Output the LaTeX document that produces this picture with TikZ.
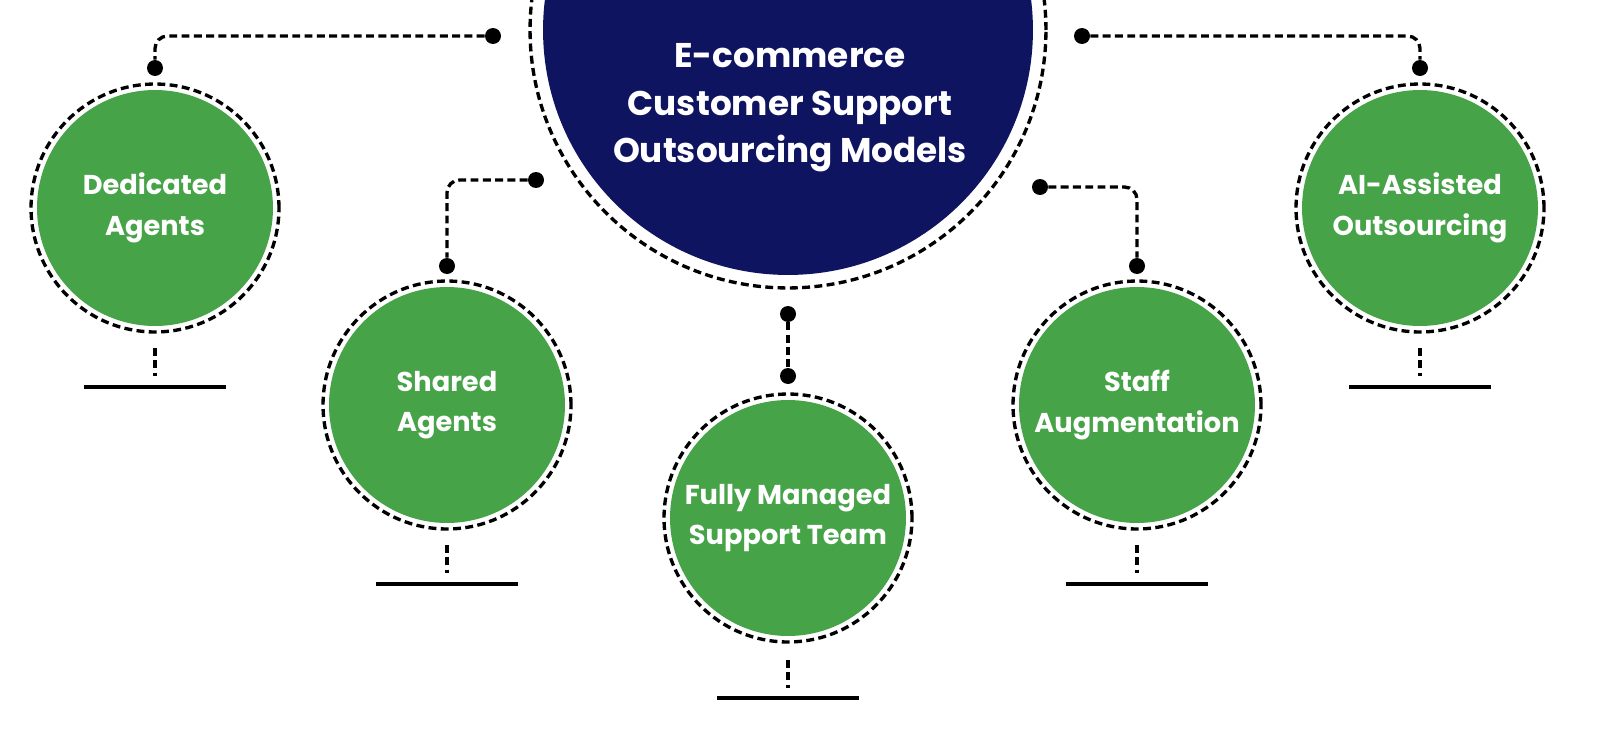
\documentclass[tikz,border=0pt]{standalone}
\usepackage{fontspec}
\setmainfont{Poppins}
\begin{document}
\begin{tikzpicture}[x=0.02cm,y=-0.02cm,
  gc/.style={circle,fill={rgb,255:red,70;green,163;blue,72},minimum size=4.72cm,inner sep=0pt,align=center,text=white,font=\fontsize{15.5}{23}\selectfont\bfseries},
  ring/.style={draw=black,line width=1.9pt,dash pattern=on 4.5pt off 2.5pt},
  con/.style={draw=black,line width=1.9pt,dash pattern=on 4.5pt off 2.5pt,rounded corners=0.25cm},
  dot/.style={circle,fill=black,inner sep=0pt,minimum size=0.32cm},
  bar/.style={line width=2.6pt}]
\useasboundingbox (0,0) rectangle (1613,737);
\fill[white] (0,0) rectangle (1613,737);
\begin{scope}
\clip (0,0) rectangle (1613,737);
\draw[ring] (788,30) circle (5.16cm);
\node[circle,fill={rgb,255:red,15;green,20;blue,96},minimum size=9.8cm,inner sep=0pt] (main) at (788,30) {};
\end{scope}
\node[text=white,align=center,font=\fontsize{19.5}{27}\selectfont\bfseries] (title) at (790,108) {E-commerce\\Customer Support\\Outsourcing Models};
\node[gc] (ded) at (155,208) {Dedicated\\Agents};
\node[gc] (sha) at (447,405) {Shared\\Agents};
\node[gc] (ful) at (788,518) {Fully Managed\\Support Team};
\node[gc] (sta) at (1137,405) {Staff\\Augmentation};
\node[gc] (ai) at (1420,208) {AI-Assisted\\Outsourcing};
\foreach \n in {ded,sha,ful,sta,ai} \draw[ring] (\n.center) circle (2.48cm);
\node[dot] (d1) at (493,36) {}; \node[dot] (d2) at (155,68) {};
\node[dot] (a1) at (1082,36) {}; \node[dot] (a2) at (1420,68) {};
\node[dot] (s1) at (536,180) {}; \node[dot] (s2) at (447,266) {};
\node[dot] (t1) at (1040,187) {}; \node[dot] (t2) at (1137,266) {};
\node[dot] (f1) at (788,314) {}; \node[dot] (f2) at (788,376) {};
\draw[con] (d1) -| (d2);
\draw[con] (a1) -| (a2);
\draw[con] (s1) -| (s2);
\draw[con] (t1) -| (t2);
\draw[con] (f1) -- (f2);
\foreach \n/\x/\ya/\yb in {ded/155/348/387,sha/447/545/584,ful/788/660/698,sta/1137/545/584,ai/1420/348/387}{
  \coordinate (\n-s) at (\x,\ya);
  \coordinate (\n-b) at (\x,\yb);
  \draw[con] (\n-s) -- ++(0,28);
  \draw[bar] ([xshift=-1.42cm]\n-b) -- ([xshift=1.42cm]\n-b);
}
\end{tikzpicture}
\end{document}
